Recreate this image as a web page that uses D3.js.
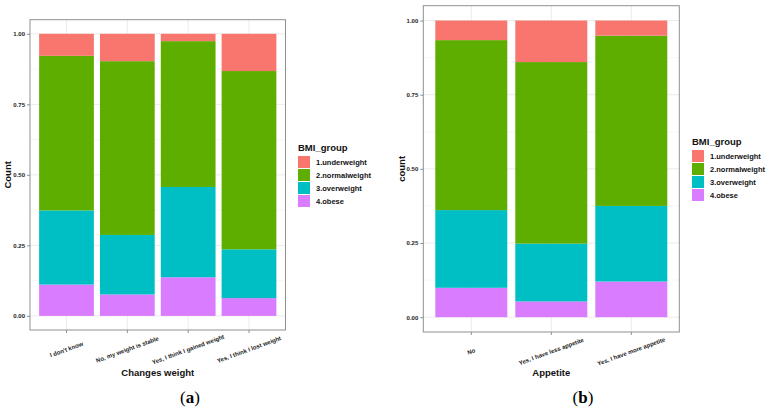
<!DOCTYPE html>
<html>
<head>
<meta charset="utf-8">
<script src="https://cdn.jsdelivr.net/npm/d3@7"></script>
<style>
  html, body { margin: 0; padding: 0; background: #fff; }
  svg { display: block; font-family: "Liberation Sans", Arial, sans-serif; }
</style>
</head>
<body>
<svg id="chart" width="769" height="411"></svg>
<script>
// ---- Data ----
const bmiGroups = ["1.underweight", "2.normalweight", "3.overweight", "4.obese"];
const bmiColors = ["#F8766D", "#5EAE00", "#00BFC4", "#D97CFF"];
const yTicks = [0, 0.25, 0.5, 0.75, 1.0];
const yTickLabels = ["0.00", "0.25", "0.50", "0.75", "1.00"];

// Panel (a): Changes weight
const weightCats = ["I don't know", "No, my weight is stable", "Yes, I think I gained weight", "Yes, I think I lost weight"];
const weightUnder  = [0.078, 0.097, 0.026, 0.132];
const weightNormal = [0.548, 0.616, 0.517, 0.632];
const weightOver   = [0.263, 0.211, 0.320, 0.173];
const weightObese  = [0.111, 0.076, 0.137, 0.063];

// Panel (b): Appetite
const appetiteCats = ["No", "Yes, I have less appetite", "Yes, I have more appetite"];
const appetiteUnder  = [0.066, 0.140, 0.051];
const appetiteNormal = [0.573, 0.612, 0.574];
const appetiteOver   = [0.262, 0.195, 0.255];
const appetiteObese  = [0.099, 0.053, 0.120];

const svg = d3.select("#chart");
const SANS = "'Liberation Sans', Arial, sans-serif";
const SERIF = "'Liberation Serif', 'Times New Roman', serif";

function drawPanel(cfg) {
  const { cats, series, left, right, top, bottom, yTitle, xTitle, tag, tagX, legendX, legendY, labelY } = cfg;
  const g = svg.append("g");
  const x = d3.scaleBand().domain(cats).range([left, right]).paddingInner(0.1).paddingOuter(0.15);
  const y = d3.scaleLinear().domain([-0.05, 1.05]).range([bottom, top]);

  // grid: minor
  const minor = [0.125, 0.375, 0.625, 0.875];
  g.selectAll(".minor").data(minor).join("line")
    .attr("x1", left).attr("x2", right)
    .attr("y1", d => y(d)).attr("y2", d => y(d))
    .attr("stroke", "#f2f2f2").attr("stroke-width", 0.6);
  // grid: major y
  g.selectAll(".majory").data(yTicks).join("line")
    .attr("x1", left).attr("x2", right)
    .attr("y1", d => y(d)).attr("y2", d => y(d))
    .attr("stroke", "#ebebeb").attr("stroke-width", 1);
  // grid: major x
  g.selectAll(".majorx").data(cats).join("line")
    .attr("x1", d => x(d) + x.bandwidth() / 2).attr("x2", d => x(d) + x.bandwidth() / 2)
    .attr("y1", top).attr("y2", bottom)
    .attr("stroke", "#ebebeb").attr("stroke-width", 1);

  // stacked bars (order bottom -> top: obese, over, normal, under)
  const rows = cats.map((c, i) => {
    const o = { cat: c };
    bmiGroups.forEach((k, j) => { o[k] = series[j][i]; });
    return o;
  });
  const stackKeys = bmiGroups.slice().reverse();
  const stacked = d3.stack().keys(stackKeys)(rows);
  const color = d3.scaleOrdinal().domain(bmiGroups).range(bmiColors);
  g.selectAll(".layer").data(stacked).join("g")
    .attr("fill", d => color(d.key))
    .selectAll("rect").data(d => d).join("rect")
    .attr("x", d => x(d.data.cat))
    .attr("width", x.bandwidth())
    .attr("y", d => y(d[1]))
    .attr("height", d => y(d[0]) - y(d[1]));

  // panel border
  g.append("rect")
    .attr("x", left).attr("y", top)
    .attr("width", right - left).attr("height", bottom - top)
    .attr("fill", "none").attr("stroke", "#8f8f8f").attr("stroke-width", 1);

  // y axis
  const yAxis = d3.axisLeft(y).tickValues(yTicks)
    .tickFormat((d, i) => yTickLabels[i]).tickSize(3).tickPadding(2);
  const ya = g.append("g").attr("transform", `translate(${left},0)`).call(yAxis);
  ya.select(".domain").remove();
  ya.selectAll(".tick line").attr("stroke", "#8f8f8f");
  ya.selectAll(".tick text").attr("font-size", 6).attr("font-weight", "bold").attr("fill", "#222")
    .style("font-family", SANS);

  // x axis
  const xAxis = d3.axisBottom(x).tickSize(3).tickFormat("");
  const xa = g.append("g").attr("transform", `translate(0,${bottom})`).call(xAxis);
  xa.select(".domain").remove();
  xa.selectAll(".tick line").attr("stroke", "#8f8f8f");
  g.selectAll(".xlab").data(cats).join("text")
    .attr("transform", d => `translate(${x(d) + x.bandwidth() / 2},${labelY}) rotate(-20)`)
    .attr("text-anchor", "middle").attr("dominant-baseline", "central")
    .style("font-family", SANS)
    .attr("font-size", 6).attr("font-weight", "bold").attr("fill", "#222")
    .text(d => d);

  // axis titles
  g.append("text")
    .attr("transform", `translate(${cfg.yTitleX},${(top + bottom) / 2}) rotate(-90)`)
    .attr("text-anchor", "middle").attr("dominant-baseline", "central")
    .style("font-family", SANS)
    .attr("font-size", 9.5).attr("font-weight", "bold").attr("fill", "#111")
    .text(yTitle);
  g.append("text")
    .attr("x", (left + right) / 2).attr("y", 372)
    .attr("text-anchor", "middle").attr("dominant-baseline", "central")
    .style("font-family", SANS)
    .attr("font-size", 9.5).attr("font-weight", "bold").attr("fill", "#111")
    .text(xTitle);

  // tag
  const t = g.append("text")
    .attr("x", tagX).attr("y", 397)
    .attr("text-anchor", "middle").attr("dominant-baseline", "central")
    .style("font-family", SERIF)
    .attr("font-size", 17).attr("fill", "#000");
  t.append("tspan").text("(");
  t.append("tspan").attr("font-weight", "bold").text(tag);
  t.append("tspan").text(")");

  // legend
  const lg = g.append("g").attr("transform", `translate(${legendX},${legendY})`);
  lg.append("text").attr("x", 0).attr("y", 0)
    .attr("dominant-baseline", "central")
    .style("font-family", SANS)
    .attr("font-size", 9.5).attr("font-weight", "bold").attr("fill", "#111")
    .text("BMI_group");
  const items = lg.selectAll(".item").data(bmiGroups).join("g")
    .attr("transform", (d, i) => `translate(0,${9 + i * 13})`);
  items.append("rect").attr("width", 12).attr("height", 12).attr("fill", d => color(d));
  items.append("text").attr("x", 18).attr("y", 6.5)
    .attr("dominant-baseline", "central")
    .style("font-family", SANS)
    .attr("font-size", 7.5).attr("font-weight", "bold").attr("fill", "#111")
    .text(d => d);
}

drawPanel({
  cats: weightCats,
  series: [weightUnder, weightNormal, weightOver, weightObese],
  left: 30, right: 285.5, top: 19.7, bottom: 330,
  yTitle: "Count", yTitleX: 7.5, xTitle: "Changes weight",
  tag: "a", tagX: 190, legendX: 298, legendY: 147, labelY: 349.5
});

drawPanel({
  cats: appetiteCats,
  series: [appetiteUnder, appetiteNormal, appetiteOver, appetiteObese],
  left: 423.3, right: 679.3, top: 5.7, bottom: 332,
  yTitle: "count", yTitleX: 401, xTitle: "Appetite",
  tag: "b", tagX: 583, legendX: 692, legendY: 141, labelY: 351.5
});
</script>
</body>
</html>
